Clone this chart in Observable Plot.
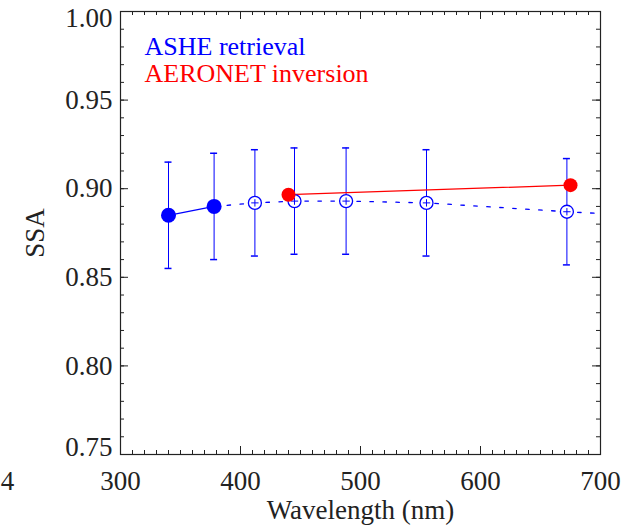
<!DOCTYPE html>
<html>
<head>
<meta charset="utf-8">
<script src="https://cdn.jsdelivr.net/npm/d3@7"></script>
<script src="https://cdn.jsdelivr.net/npm/@observablehq/plot@0.6"></script>
<style>
  html, body { margin: 0; padding: 0; background: #fff; }
  #chart { width: 627px; height: 525px; }
</style>
</head>
<body>
<div id="chart"></div>
<script>
// ---- Data ----
const asheWavelength = [340, 378, 412, 445, 488, 555, 672];
const asheSSA        = [0.885, 0.890, 0.892, 0.893, 0.893, 0.892, 0.887];
const asheLow        = [0.855, 0.860, 0.862, 0.863, 0.863, 0.862, 0.857];
const asheHigh       = [0.915, 0.920, 0.922, 0.923, 0.923, 0.922, 0.917];
const asheFilled     = [true, true, false, false, false, false, false];

// dashed continuation of the ASHE spectrum (extends to the right edge)
const dashWavelength = [378, 412, 445, 488, 555, 672, 700];
const dashSSA        = [0.890, 0.892, 0.893, 0.893, 0.892, 0.887, 0.886];

const aeronetWavelength = [440, 675];
const aeronetSSA        = [0.8966, 0.902];

const xTicks = [300, 400, 500, 600, 700];
const yTicks = [0.75, 0.80, 0.85, 0.90, 0.95, 1.00];
const legendLabels = ["ASHE retrieval", "AERONET inversion"];
const xLabel = "Wavelength (nm)";
const yLabel = "SSA";
const panelFragment = "4";

// ---- Tables ----
const ashe = asheWavelength.map((w, i) => ({wl: w, ssa: asheSSA[i], lo: asheLow[i], hi: asheHigh[i], filled: asheFilled[i]}));
const asheF = ashe.filter(d => d.filled);
const asheO = ashe.filter(d => !d.filled);
const dash = dashWavelength.map((w, i) => ({wl: w, ssa: dashSSA[i]}));
const aeronet = aeronetWavelength.map((w, i) => ({wl: w, ssa: aeronetSSA[i]}));

const xMinor = d3.range(300, 701, 10);
const yMinor = d3.range(75, 101, 1).map(v => v / 100);
const yTop = yTicks[yTicks.length - 1], yBottom = yTicks[0];
const yMid = yTicks.slice(1, -1);

const W = 627, H = 525, mL = 120, mR = 27, mT = 11, mB = 71;
const fw = W - mL - mR, fh = H - mT - mB;
const BLUE = "#0000ff", RED = "#ff0000", AX = "#222";
const FS = 27, LFS = 26;
const fmtY = d3.format(".2f");

const chart = Plot.plot({
  width: W, height: H,
  marginLeft: mL, marginRight: mR, marginTop: mT, marginBottom: mB,
  style: {fontFamily: "'Liberation Serif', 'DejaVu Serif', serif", fontSize: FS + "px", color: AX, background: "#fff"},
  x: {domain: [300, 700]},
  y: {domain: [0.75, 1.0]},
  marks: [
    // tick marks (inward) on all four sides
    Plot.ruleX(xMinor, {x: d => d, insetTop: fh - 4, stroke: AX}),
    Plot.ruleX(xMinor, {x: d => d, insetBottom: fh - 4, stroke: AX}),
    Plot.ruleX(xTicks, {x: d => d, insetTop: fh - 8, stroke: AX}),
    Plot.ruleX(xTicks, {x: d => d, insetBottom: fh - 8, stroke: AX}),
    Plot.ruleY(yMinor, {y: d => d, insetRight: fw - 4, stroke: AX}),
    Plot.ruleY(yMinor, {y: d => d, insetLeft: fw - 4, stroke: AX}),
    Plot.ruleY(yTicks, {y: d => d, insetRight: fw - 8, stroke: AX}),
    Plot.ruleY(yTicks, {y: d => d, insetLeft: fw - 8, stroke: AX}),
    Plot.frame({stroke: AX, strokeWidth: 1.2}),
    Plot.axisX({ticks: xTicks, tickSize: 0, tickPadding: 16.5, tickFormat: d => String(d), fontSize: FS, label: null}),
    Plot.axisY({ticks: yMid, tickSize: 0, tickPadding: 8, tickFormat: fmtY, fontSize: FS, label: null}),
    Plot.axisY({ticks: [yTop], tickSize: 0, tickPadding: 8, tickFormat: fmtY, fontSize: FS, label: null, dy: 7}),
    Plot.axisY({ticks: [yBottom], tickSize: 0, tickPadding: 8, tickFormat: fmtY, fontSize: FS, label: null, dy: -7}),

    // error bars
    Plot.ruleX(ashe, {x: "wl", y1: "lo", y2: "hi", stroke: BLUE, strokeWidth: 1}),
    Plot.ruleY(ashe, {y: "hi", x1: "wl", x2: "wl", insetLeft: -3.5, insetRight: -3.5, stroke: BLUE, strokeWidth: 1.5}),
    Plot.ruleY(ashe, {y: "lo", x1: "wl", x2: "wl", insetLeft: -3.5, insetRight: -3.5, stroke: BLUE, strokeWidth: 1.5}),

    // lines
    Plot.line(dash, {x: "wl", y: "ssa", stroke: BLUE, strokeWidth: 1.3, strokeDasharray: "3.5,9.5"}),
    Plot.line(asheF, {x: "wl", y: "ssa", stroke: BLUE, strokeWidth: 1.3}),
    Plot.line(aeronet, {x: "wl", y: "ssa", stroke: RED, strokeWidth: 1.3}),

    // points
    Plot.dot(asheO, {x: "wl", y: "ssa", r: 6.5, fill: "white", stroke: BLUE, strokeWidth: 1.3}),
    Plot.dot(asheO, {x: "wl", y: "ssa", r: 2.5, symbol: "plus", stroke: BLUE, strokeWidth: 1}),
    Plot.dot(asheF, {x: "wl", y: "ssa", r: 7.5, fill: BLUE, stroke: null}),
    Plot.dot(aeronet, {x: "wl", y: "ssa", r: 7, fill: RED, stroke: null}),

    // legend
    Plot.text([legendLabels[0]], {frameAnchor: "top-left", dx: 24, dy: 35.5, textAnchor: "start", lineAnchor: "middle", fill: BLUE, fontSize: LFS}),
    Plot.text([legendLabels[1]], {frameAnchor: "top-left", dx: 24, dy: 62.5, textAnchor: "start", lineAnchor: "middle", fill: RED, fontSize: LFS}),

    // axis titles
    Plot.text([xLabel], {frameAnchor: "bottom", dy: 55.7, textAnchor: "middle", lineAnchor: "middle", fill: AX, fontSize: FS}),
    Plot.text([yLabel], {frameAnchor: "left", dx: -85.3, rotate: -90, textAnchor: "middle", lineAnchor: "middle", fill: AX, fontSize: FS}),

    // fragment of neighbouring panel's tick label
    Plot.text([panelFragment], {frameAnchor: "bottom-left", dx: -113, dy: 26.5, textAnchor: "middle", lineAnchor: "middle", fill: AX, fontSize: FS})
  ]
});
document.getElementById("chart").appendChild(chart);
</script>
</body>
</html>
